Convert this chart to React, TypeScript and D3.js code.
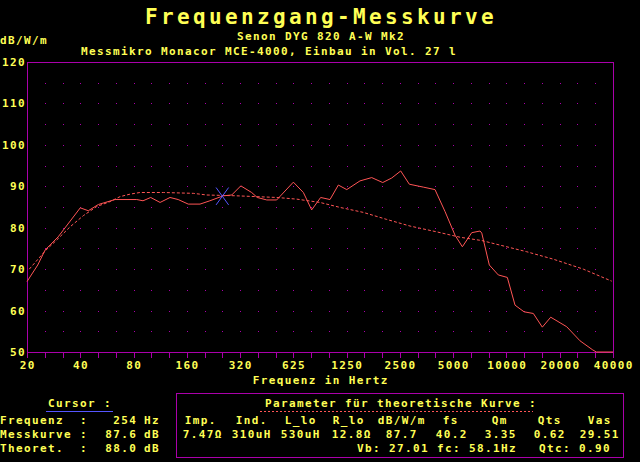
import React from 'react';
import * as d3 from 'd3';

// ---------- data ----------
const octaveLabels = ['20', '40', '80', '160', '320', '625', '1250', '2500', '5000', '10000', '20000', '40000'];
const yTickValues = [50, 60, 70, 80, 90, 100, 110, 120];

const measFreq = [20, 23, 25.3, 30, 40, 44.4, 50.6, 62.9, 83.4, 90.5, 100, 113, 128.6, 143, 163, 190, 216, 257, 287, 323, 372, 400, 453, 515, 640, 729, 812, 913, 1031, 1149, 1282, 1523, 1774, 2047, 2301, 2587, 2894, 3471, 4042, 4605, 5243, 5770, 6517, 7264, 7427, 8194, 9210, 10357, 11450, 12877, 14526, 16330, 18214, 22430, 26670, 31470, 33000, 40960];
const measDb = [67.0, 71.0, 74.6, 77.8, 84.8, 84.1, 85.6, 86.8, 86.8, 86.5, 87.3, 86.1, 87.3, 86.8, 85.7, 85.7, 86.5, 87.7, 87.9, 90.1, 88.5, 87.3, 86.7, 86.7, 91.0, 88.5, 84.3, 87.3, 86.8, 90.3, 89.2, 91.3, 92.1, 90.9, 92.0, 93.7, 90.5, 89.8, 89.2, 83.9, 78.2, 75.4, 78.8, 79.2, 78.7, 71.0, 68.6, 68.0, 61.3, 59.7, 59.3, 56.0, 58.4, 56.1, 52.7, 50.5, 50.0, 50.0];

const theoFreq = [20.6, 25.6, 29.4, 35, 41.6, 49.5, 58.9, 67.1, 76.4, 87, 118, 174, 207, 306, 515, 669, 905, 1174, 1590, 2156, 2921, 4134, 5600, 7427, 9418, 13330, 18850, 27840, 40280];
const theoDb = [70.0, 74.6, 77.0, 80.2, 82.9, 85.1, 86.3, 87.5, 88.1, 88.5, 88.5, 88.3, 87.9, 87.7, 87.3, 86.9, 86.1, 84.9, 83.7, 82.0, 80.4, 79.0, 77.7, 76.9, 75.8, 74.2, 72.4, 70.0, 67.1];

const cursorFreq = 254;
const cursorDb = 87.6;

const paramHeaders = ['Imp.', 'Ind.', 'L_lo', 'R_lo', 'dB/W/m', 'fs', 'Qm', 'Qts', 'Vas'];
const paramValues = ['7.47Ω', '310uH', '530uH', '12.8Ω', '87.7', '40.2', '3.35', '0.62', '29.51'];
const paramHeaderX = [200, 251, 300, 348, 401, 450, 499, 549, 599];
const paramValueX = [202, 251, 300, 351, 401, 451, 500, 549, 599];

const cursorRows = [
  { label: 'Frequenz', value: '254', unit: 'Hz' },
  { label: 'Messkurve', value: '87.6', unit: 'dB' },
  { label: 'Theoret.', value: '88.0', unit: 'dB' },
];

// ---------- style ----------
const FONT = "'DejaVu Sans Mono', 'Liberation Mono', monospace";
const YELLOW = '#ffff55';
const PURPLE = '#aa00aa';
const RED = '#ff5555';
const BLUE = '#5555ff';

const W = 640;
const H = 462;
const PL = 27;
const PR = 613;
const PT = 62;
const PB = 352;

export default function App() {
  const x = d3.scaleLog().base(2).domain([20, 20 * 2 ** 11]).range([PL, PR]);
  const y = d3.scaleLinear().domain([50, 120]).range([PB, PT]);

  const meas = measFreq.map((f, i) => [f, measDb[i]] as [number, number]);
  const theo = theoFreq.map((f, i) => [f, theoDb[i]] as [number, number]);
  const line = d3
    .line<[number, number]>()
    .x((d) => x(d[0]))
    .y((d) => y(d[1]));

  const thirdOct = d3.range(0, 34).map((k) => 20 * 2 ** (k / 3));
  const dotFreqs = thirdOct.slice(1, 33);
  const dotDb = d3.range(55, 120, 5);

  const small = { fontFamily: FONT, fontSize: 11, fontWeight: 700, letterSpacing: 1.38, fill: YELLOW } as const;

  const cx = x(cursorFreq);
  const cy = y(cursorDb);

  return (
    <svg width={W} height={H} style={{ position: 'fixed', left: 0, top: 0, display: 'block' }}>
      <rect x={0} y={0} width={W} height={H} fill="#000" />

      {/* titles */}
      <text x={145} y={24} fontFamily={FONT} fontSize={21} fontWeight={700} letterSpacing={3.36} fill={YELLOW}>
        Frequenzgang-Messkurve
      </text>
      <text x={237} y={40} {...small}>Senon DYG 820 A-W Mk2</text>
      <text x={81} y={55} {...small}>Messmikro Monacor MCE-4000, Einbau in Vol. 27 l</text>
      <text x={0} y={44} {...small}>dB/W/m</text>

      {/* grid dots */}
      <g fill={PURPLE} shapeRendering="crispEdges">
        {dotFreqs.map((f, i) =>
          dotDb.map((v, j) => (
            <rect key={`d${i}-${j}`} x={Math.round(x(f))} y={Math.round(y(v))} width={1} height={1} />
          ))
        )}
      </g>

      {/* frame */}
      <g stroke={PURPLE} strokeWidth={1} fill="none" shapeRendering="crispEdges">
        <line x1={PL + 0.5} y1={PT} x2={PL + 0.5} y2={PB + 1} />
        <line x1={PL} y1={PT + 0.5} x2={PR + 1} y2={PT + 0.5} />
        <line x1={PR + 0.5} y1={PT} x2={PR + 0.5} y2={PB + 1} />
        <line x1={PL} y1={PB + 0.5} x2={PR + 1} y2={PB + 0.5} />
        {thirdOct.map((f, i) => (
          <line key={`t${i}`} x1={Math.round(x(f)) + 0.5} y1={PB} x2={Math.round(x(f)) + 0.5} y2={PB + 6} />
        ))}
      </g>

      {/* y labels */}
      {yTickValues.map((v) => (
        <text key={`y${v}`} x={26} y={y(v) + 4} textAnchor="end" {...small}>
          {v}
        </text>
      ))}

      {/* x labels */}
      {octaveLabels.map((lab, i) => (
        <text key={`x${i}`} x={x(20 * 2 ** i) + 0.7} y={369} textAnchor="middle" {...small}>
          {lab}
        </text>
      ))}
      <text x={320.7} y={384} textAnchor="middle" {...small}>Frequenz in Hertz</text>

      {/* curves */}
      <path d={line(theo) || ''} fill="none" stroke={RED} strokeWidth={1} strokeDasharray="3 2" />
      <path d={line(meas) || ''} fill="none" stroke={RED} strokeWidth={1} />

      {/* cursor */}
      <g stroke={BLUE} strokeWidth={1}>
        <line x1={cx - 6.3} y1={cy - 8.7} x2={cx + 6.3} y2={cy + 8.7} />
        <line x1={cx - 6.3} y1={cy + 8.7} x2={cx + 6.3} y2={cy - 8.7} />
      </g>

      {/* cursor panel */}
      <text x={48} y={407} {...small}>Cursor :</text>
      <line x1={46} y1={411.5} x2={113} y2={411.5} stroke={BLUE} strokeWidth={1} shapeRendering="crispEdges" />
      {cursorRows.map((r, i) => {
        const by = [424, 438, 452][i];
        return (
          <g key={`c${i}`}>
            <text x={0} y={by} {...small}>{r.label}</text>
            <text x={80} y={by} {...small}>:</text>
            <text x={136} y={by} textAnchor="end" {...small} dx={1.38}>{r.value}</text>
            <text x={144} y={by} {...small}>{r.unit}</text>
          </g>
        );
      })}

      {/* parameter box */}
      <rect x={176.5} y={393.5} width={447} height={64} fill="none" stroke={PURPLE} strokeWidth={1} shapeRendering="crispEdges" />
      <text x={265} y={407} {...small}>Parameter für theoretische Kurve :</text>
      <line x1={260} y1={411.5} x2={533} y2={411.5} stroke={RED} strokeWidth={1} strokeDasharray="2 2" shapeRendering="crispEdges" />
      {paramHeaders.map((h, i) => (
        <text key={`h${i}`} x={paramHeaderX[i] + 0.7} y={424} textAnchor="middle" {...small}>
          {h}
        </text>
      ))}
      {paramValues.map((v, i) => (
        <text key={`v${i}`} x={paramValueX[i] + 0.7} y={438} textAnchor="middle" {...small}>
          {v}
        </text>
      ))}
      <text x={357} y={452} {...small}>Vb: 27.01</text>
      <text x={437} y={452} {...small}>fc: 58.1Hz</text>
      <text x={539} y={452} {...small}>Qtc: 0.90</text>
    </svg>
  );
}
